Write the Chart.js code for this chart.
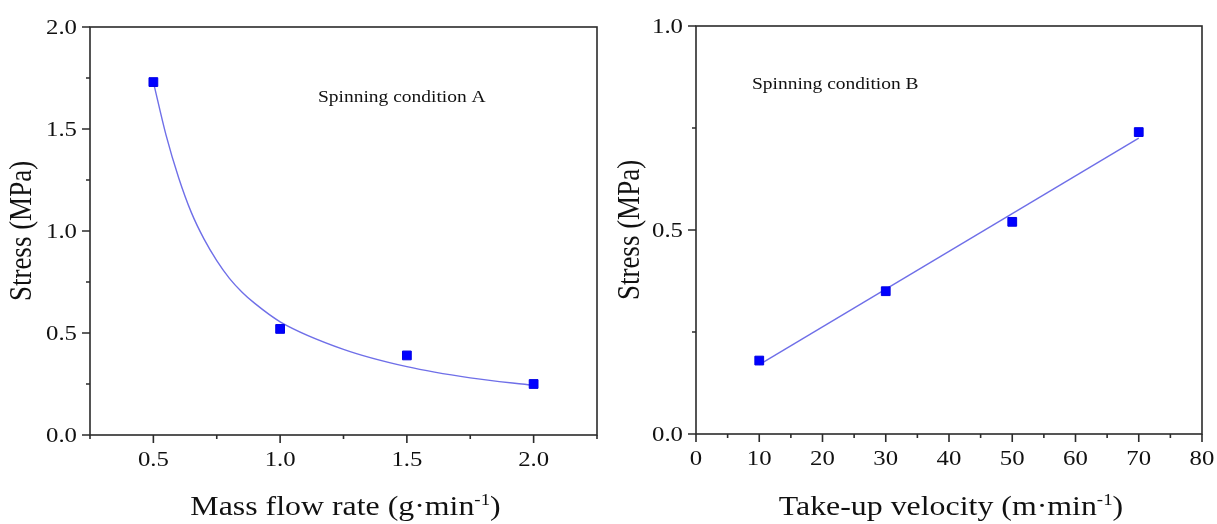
<!DOCTYPE html>
<html>
<head>
<meta charset="utf-8">
<script src="https://cdn.jsdelivr.net/npm/chart.js@4.4.1/dist/chart.umd.min.js"></script>
<style>
  body { margin: 0; background: #fff; }
  .row { display: flex; width: 1217px; height: 524px; }
  canvas { display: block; }
</style>
</head>
<body>
<div class="row">
  <canvas id="chartA" width="608" height="524"></canvas>
  <canvas id="chartB" width="609" height="524"></canvas>
</div>
<script>
// Spinning condition A: stress against mass flow rate
const flowRate = [0.5, 1.0, 1.5, 2.0];
const stressA = [1.73, 0.52, 0.39, 0.25];
// fitted curve, read along its length
const fitFlowRate = [0.5, 0.55, 0.6, 0.65, 0.7, 0.75, 0.8, 0.85, 0.9, 1.0, 1.25, 1.5, 1.75, 2.0];
const fitStressA = [1.73, 1.47, 1.26, 1.09, 0.96, 0.855, 0.768, 0.70, 0.645, 0.555, 0.42, 0.335, 0.28, 0.243];

// Spinning condition B: stress against take-up velocity
const takeUpVelocity = [10, 30, 50, 70];
const stressB = [0.18, 0.35, 0.52, 0.74];
const fitVelocity = [10, 70];
const fitStressB = [0.17, 0.725];

const SERIF = '"Liberation Serif", "Times New Roman", serif';
const AXIS_COLOR = '#2b2b2b';
const TEXT_COLOR = '#111';
const MARKER_COLOR = '#0000ff';
const FIT_COLOR = '#6f6fe8';
// the figure's lettering runs a little wide
const TEXT_STRETCH = 1.18;

function toPoints(xs, ys) {
    return xs.map((x, i) => ({ x: x, y: ys[i] }));
}

function isLabelled(value, every) {
    const r = value / every;
    return Math.abs(r - Math.round(r)) < 1e-6;
}

function fillWide(ctx, text, x, y, align) {
    ctx.save();
    ctx.translate(x, y);
    ctx.scale(TEXT_STRETCH, 1);
    ctx.textAlign = align;
    ctx.fillText(text, 0, 0);
    ctx.restore();
}

// draws "text" + raised small "sup" + "tail", centred on cx
function drawSupText(ctx, parts, cx, baseline, size) {
    const mainFont = size + 'px ' + SERIF;
    const supFont = Math.round(size * 0.6) + 'px ' + SERIF;
    ctx.font = mainFont;
    const w0 = ctx.measureText(parts[0]).width;
    const w2 = ctx.measureText(parts[2]).width;
    ctx.font = supFont;
    const w1 = ctx.measureText(parts[1]).width;
    ctx.save();
    ctx.translate(cx, baseline);
    ctx.scale(TEXT_STRETCH, 1);
    let x = -(w0 + w1 + w2) / 2;
    ctx.textAlign = 'left';
    ctx.textBaseline = 'alphabetic';
    ctx.font = mainFont;
    ctx.fillText(parts[0], x, 0);
    x += w0;
    ctx.font = supFont;
    ctx.fillText(parts[1], x, -size * 0.38);
    x += w1;
    ctx.font = mainFont;
    ctx.fillText(parts[2], x, 0);
    ctx.restore();
}

// Box frame, outward ticks, tick labels, axis titles and the note inside the plot
const framePlugin = {
    id: 'frame',
    afterDraw(chart, args, opts) {
        const ctx = chart.ctx;
        const area = chart.chartArea;
        const xs = chart.scales.x;
        const ys = chart.scales.y;
        ctx.save();
        ctx.strokeStyle = AXIS_COLOR;
        ctx.lineWidth = 1.6;
        ctx.strokeRect(area.left, area.top, area.right - area.left, area.bottom - area.top);

        ctx.beginPath();
        xs.ticks.forEach(t => {
            const px = xs.getPixelForValue(t.value);
            const len = isLabelled(t.value, opts.xMajor) ? 8 : 4;
            ctx.moveTo(px, area.bottom);
            ctx.lineTo(px, area.bottom + len);
        });
        ys.ticks.forEach(t => {
            const py = ys.getPixelForValue(t.value);
            const len = isLabelled(t.value, opts.yMajor) ? 8 : 4;
            ctx.moveTo(area.left, py);
            ctx.lineTo(area.left - len, py);
        });
        ctx.stroke();

        ctx.fillStyle = TEXT_COLOR;
        ctx.font = '21px ' + SERIF;
        ctx.textBaseline = 'middle';
        xs.ticks.forEach(t => {
            if (t.label) fillWide(ctx, t.label, xs.getPixelForValue(t.value), area.bottom + 25, 'center');
        });
        ys.ticks.forEach(t => {
            if (t.label) fillWide(ctx, t.label, area.left - 13, ys.getPixelForValue(t.value) + 1, 'right');
        });

        drawSupText(ctx, opts.xTitle, (area.left + area.right) / 2 + 2, 515, 27);

        ctx.save();
        ctx.translate(opts.yTitleX, (area.top + area.bottom) / 2);
        ctx.scale(TEXT_STRETCH, 1);
        ctx.rotate(-Math.PI / 2);
        ctx.font = '27px ' + SERIF;
        ctx.textAlign = 'center';
        ctx.textBaseline = 'middle';
        ctx.fillText(opts.yTitle, 0, 0);
        ctx.restore();

        ctx.font = '16.5px ' + SERIF;
        ctx.textBaseline = 'middle';
        fillWide(ctx, opts.note.text, opts.note.x, opts.note.y, 'left');
        ctx.restore();
    }
};

function axis(min, max, step, every, fit) {
    return {
        type: 'linear',
        min: min,
        max: max,
        afterFit: fit,
        grid: { display: false, drawTicks: false },
        border: { display: false },
        ticks: {
            display: false,
            stepSize: step,
            autoSkip: false,
            maxRotation: 0,
            callback: v => isLabelled(v, every) ? (every >= 1 ? String(Math.round(v)) : v.toFixed(1)) : ''
        }
    };
}

function fixWidth(w) {
    return s => {
        s.width = w;
        s.paddingTop = 0;
        s.paddingBottom = 0;
    };
}

function fixHeight(h) {
    return s => {
        s.height = h;
        s.paddingLeft = 0;
        s.paddingRight = 0;
    };
}

function makeChart(canvasId, cfg) {
    const ctx = document.getElementById(canvasId).getContext('2d');
    return new Chart(ctx, {
        type: 'scatter',
        data: {
            datasets: [{
                data: cfg.points,
                showLine: false,
                pointStyle: 'rect',
                pointRadius: 6.2,
                backgroundColor: MARKER_COLOR,
                borderColor: '#0000e6',
                borderWidth: 1
            }, {
                data: cfg.fit,
                showLine: true,
                pointRadius: 0,
                borderColor: FIT_COLOR,
                borderWidth: 1.4,
                fill: false,
                cubicInterpolationMode: 'monotone'
            }]
        },
        options: {
            responsive: false,
            animation: false,
            events: [],
            layout: { padding: cfg.padding },
            scales: { x: cfg.x, y: cfg.y },
            plugins: {
                legend: { display: false },
                tooltip: { enabled: false },
                frame: cfg.frame
            }
        },
        plugins: [framePlugin]
    });
}

makeChart('chartA', {
    points: toPoints(flowRate, stressA),
    fit: toPoints(fitFlowRate, fitStressA),
    padding: { top: 27, right: 11, left: 0, bottom: 0 },
    x: axis(0.25, 2.25, 0.25, 0.5, fixHeight(89)),
    y: axis(0, 2, 0.25, 0.5, fixWidth(90)),
    frame: {
        xMajor: 0.5,
        yMajor: 0.5,
        xTitle: ['Mass flow rate (g\u00b7min', '-1', ')'],
        yTitle: 'Stress (MPa)',
        yTitleX: 23,
        note: { text: 'Spinning condition A', x: 318, y: 98 }
    }
});

makeChart('chartB', {
    points: toPoints(takeUpVelocity, stressB),
    fit: toPoints(fitVelocity, fitStressB),
    padding: { top: 26, right: 15, left: 0, bottom: 0 },
    x: axis(0, 80, 5, 10, fixHeight(90)),
    y: axis(0, 1, 0.25, 0.5, fixWidth(88)),
    frame: {
        xMajor: 10,
        yMajor: 0.5,
        xTitle: ['Take-up velocity (m\u00b7min', '-1', ')'],
        yTitle: 'Stress (MPa)',
        yTitleX: 23,
        note: { text: 'Spinning condition B', x: 144, y: 85 }
    }
});
</script>
</body>
</html>
